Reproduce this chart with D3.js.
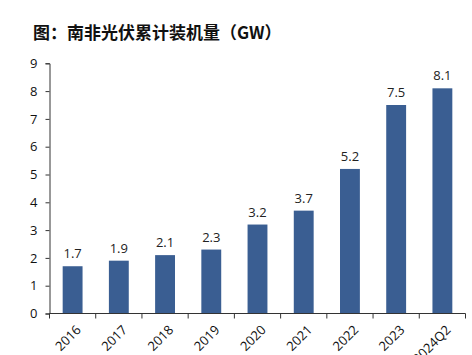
<!DOCTYPE html>
<html><head><meta charset="utf-8">
<script src="https://cdn.jsdelivr.net/npm/d3@7"></script>
<style>body{margin:0;background:#fff}</style>
</head><body>
<svg id="c" width="472" height="355"></svg>
<script>
const categories = ["2016","2017","2018","2019","2020","2021","2022","2023","2024Q2"];
const values = [1.7,1.9,2.1,2.3,3.2,3.7,5.2,7.5,8.1];
const yTicks = [0,1,2,3,4,5,6,7,8,9];
const title = "图：南非光伏累计装机量（GW）";

(function(){
const svg = d3.select("#c");
const font = "'Open Sans','Noto Sans',sans-serif";
const mL = 49.5, mR = 465.5, mT = 63.3, mB = 313.5;
const x = d3.scaleBand().domain(categories).range([mL, mR]).paddingInner(0.57).paddingOuter(0.285);
const y = d3.scaleLinear().domain([0, 9]).range([mB, mT]);

svg.append("text").attr("x", 33).attr("y", 39).attr("font-family", "'Noto Sans CJK SC',sans-serif")
  .attr("font-weight", "bold").attr("font-size", 17).attr("fill", "#111").text(title);

svg.selectAll("rect.bar").data(values).join("rect").attr("class","bar")
  .attr("x", (d,i) => x(categories[i])).attr("width", x.bandwidth())
  .attr("y", d => y(d)).attr("height", d => y(0) - y(d)).attr("fill", "#3a5e92");

svg.selectAll("text.val").data(values).join("text").attr("class","val")
  .attr("x", (d,i) => x(categories[i]) + x.bandwidth()/2).attr("y", d => y(d) - 8)
  .attr("text-anchor","middle").attr("font-family", font).attr("font-size", 13).attr("fill","#222")
  .text(d => d.toFixed(1));

const ya = svg.append("g").attr("transform", `translate(${mL},0)`)
  .call(d3.axisLeft(y).tickValues(yTicks).tickSize(4).tickPadding(8).tickFormat(d3.format("d")));
ya.select(".domain").attr("stroke","#333");
ya.selectAll("line").attr("stroke","#333");
ya.selectAll("text").attr("font-family", font).attr("font-size", 13).attr("fill","#111");

const xa = svg.append("g").attr("transform", `translate(0,${mB})`);
xa.append("line").attr("x1", mL).attr("x2", mR).attr("stroke","#333");
const step = x.step();
const bounds = categories.map((c,i) => mL + i*step).concat([mR]);
xa.selectAll("line.t").data(bounds).join("line").attr("class","t")
  .attr("x1", d => d).attr("x2", d => d).attr("y1", 0).attr("y2", 5).attr("stroke","#333");
xa.selectAll("text").data(categories).join("text")
  .attr("transform", d => `translate(${x(d) + x.bandwidth()/2 + 6},${14}) rotate(-45)`)
  .attr("text-anchor","end").attr("dy","0.35em").attr("font-family", font).attr("font-size", 13).attr("fill","#111")
  .text(d => d);
})();
</script>
</body></html>
